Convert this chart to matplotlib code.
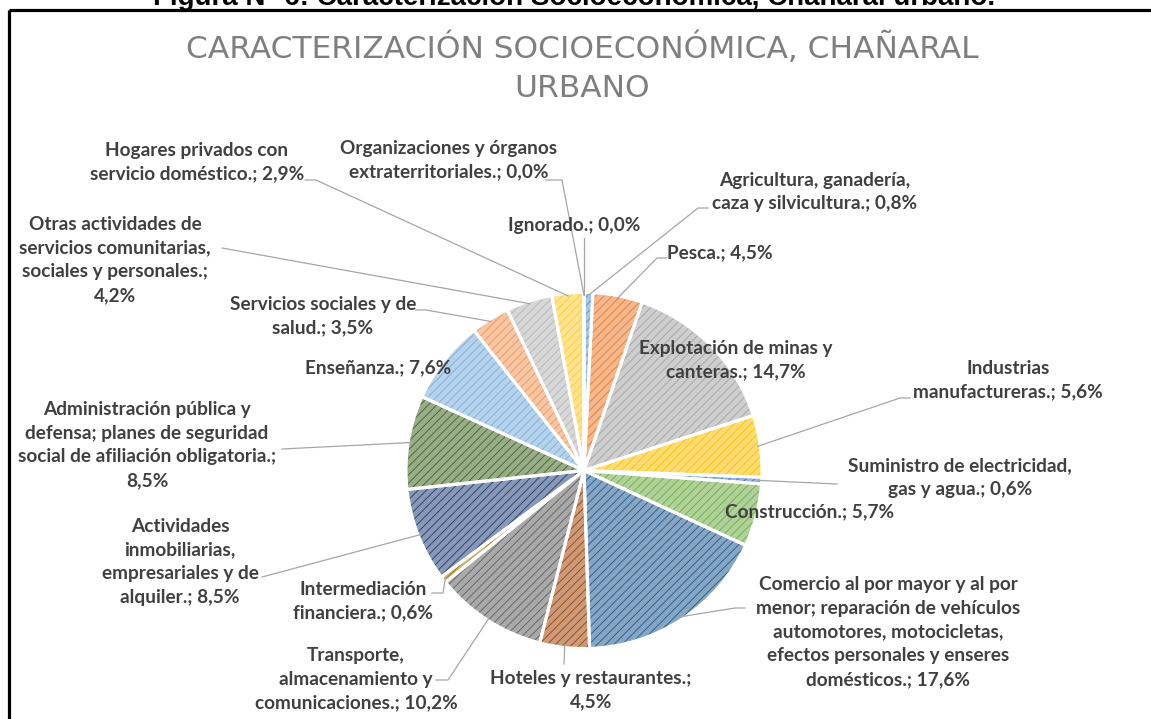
import numpy as np
import matplotlib
matplotlib.use("Agg")
import matplotlib.pyplot as plt
from matplotlib.colors import to_rgb

# ----------------------------
# datos (orden de la torta, sentido horario desde arriba)
# ----------------------------
categorias = [
    "Agricultura, ganadería,\ncaza y silvicultura.",
    "Pesca.",
    "Explotación de minas y\ncanteras.",
    "Industrias\nmanufactureras.",
    "Suministro de electricidad,\ngas y agua.",
    "Construcción.",
    "Comercio al por mayor y al por\nmenor; reparación de vehículos\nautomotores, motocicletas,\nefectos personales y enseres\ndomésticos.",
    "Hoteles y restaurantes.",
    "Transporte,\nalmacenamiento y\ncomunicaciones.",
    "Intermediación\nfinanciera.",
    "Actividades\ninmobiliarias,\nempresariales y de\nalquiler.",
    "Administración pública y\ndefensa; planes de seguridad\nsocial de afiliación obligatoria.",
    "Enseñanza.",
    "Servicios sociales y de\nsalud.",
    "Otras actividades de\nservicios comunitarias,\nsociales y personales.",
    "Hogares privados con\nservicio doméstico.",
    "Organizaciones y órganos\nextraterritoriales.",
    "Ignorado.",
]
porcentajes = [0.8, 4.5, 14.7, 5.6, 0.6, 5.7, 17.6, 4.5, 10.2, 0.6,
               8.5, 8.5, 7.6, 3.5, 4.2, 2.9, 0.0, 0.0]
# separador entre nombre y porcentaje (Excel a veces parte la línea)
separador = [" ", " ", " ", " ", " ", " ", " ", "\n", " ", " ",
             " ", "\n", " ", " ", "\n", " ", " ", " "]

# paleta Office 2013 (base, oscura, clara)
colores = ["#5B9BD5", "#ED7D31", "#A5A5A5", "#FFC000", "#4472C4", "#70AD47",
           "#255E91", "#9E480E", "#636363", "#997300", "#264478", "#43682B",
           "#7CAFDD", "#F1975A", "#B7B7B7", "#FFCD33", "#698ED0", "#8CC168"]

titulo = "CARACTERIZACIÓN SOCIOECONÓMICA, CHAÑARAL\nURBANO"
leyenda_sup = "Figura N° 6: Caracterización Socioeconómica, Chañaral urbano."

# posiciones de etiquetas (px) y arranque de líneas guía
pos_etq = [(815, 192), (720, 253), (736, 360), (1008, 380), (960, 478),
           (810, 512), (888, 632), (591, 690), (356, 679), (363, 601),
           (180, 562), (147, 445), (378, 368), (323, 316), (115, 260),
           (197, 162), (449, 160), (574, 225)]
guias = {0: [(708, 208), (698, 208)], 1: [(667, 258), (657, 258)],
         3: [(910, 398), (900, 398)], 4: [(837, 484)],
         6: [(745, 608), (735, 608)], 7: [(564, 664)],
         8: [(436, 680), (448, 680)], 9: [(432, 593), (443, 593)],
         10: [(262, 577)], 11: [(282, 449)],
         13: [(416, 310), (426, 310)], 14: [(222, 248)],
         15: [(305, 180), (316, 180)], 16: [(546, 180), (562, 180)],
         17: [(584, 238)]}

W, H = 1151, 719
cx, cy, R = 584, 470.5, 178

plt.rcParams['hatch.linewidth'] = 0.65
fig = plt.figure(figsize=(W / 100, H / 100), dpi=100)

def aclarar(c, f):
    r = np.array(to_rgb(c))
    return tuple(r * f + (1 - f))

ax_pie = fig.add_axes([(cx - R) / W, (H - cy - R) / H, 2 * R / W, 2 * R / H])
fondo = [aclarar(c, 0.55) for c in colores]
kw = dict(startangle=90, counterclock=False, radius=1)
ax_pie.pie(porcentajes, colors=fondo, wedgeprops=dict(linewidth=0), **kw)
w2, _ = ax_pie.pie(porcentajes, colors=["none"] * len(colores), hatch="////",
                   wedgeprops=dict(linewidth=0), **kw)
for w, c in zip(w2, colores):
    w.set_edgecolor(c)
    w.set_facecolor("none")
w3, _ = ax_pie.pie(porcentajes, colors=["none"] * len(colores),
                   wedgeprops=dict(linewidth=2.2, edgecolor="white"), **kw)
ax_pie.set_xlim(-1, 1)
ax_pie.set_ylim(-1, 1)

# capa de textos en pixeles
ax = fig.add_axes([0, 0, 1, 1])
ax.set_xlim(0, W)
ax.set_ylim(H, 0)
ax.axis("off")

# marco
ax.plot([9.5, W], [9.5, 9.5], color="black", lw=2.3, solid_capstyle="butt")
ax.plot([9.5, 9.5], [9.5, H], color="black", lw=2.3, solid_capstyle="butt")
ax.text(574, 5, leyenda_sup, ha="center", va="baseline", fontsize=20,
        fontweight="bold", family="Liberation Sans", color="black")

ax.text(582, 67, titulo, ha="center", va="center", fontsize=22.5,
        family="DejaVu Sans", color="#7F7F7F", linespacing=1.42)

# líneas guía
tot = sum(porcentajes)
acum = np.cumsum([0] + porcentajes)
inv = ax.transData.inverted()
for i, pts in guias.items():
    medio = (acum[i] + acum[i + 1]) / 2 / tot
    ang = np.deg2rad(90 - 360 * medio)
    p = ax_pie.transData.transform((0.985 * np.cos(ang), 0.985 * np.sin(ang)))
    px, py = inv.transform(p)
    xs = [q[0] for q in pts] + [px]
    ys = [q[1] for q in pts] + [py]
    ax.plot(xs, ys, color="#A6A6A6", lw=0.9)

# etiquetas
for i, nombre in enumerate(categorias):
    pct = f"{porcentajes[i]:.1f}%".replace(".", ",")
    ax.text(pos_etq[i][0], pos_etq[i][1], nombre + ";" + separador[i] + pct,
            ha="center", va="center", fontsize=13.7, fontweight="bold",
            family="Lato", color="#404040", linespacing=1.48)

fig.savefig("out.png", dpi=100)
